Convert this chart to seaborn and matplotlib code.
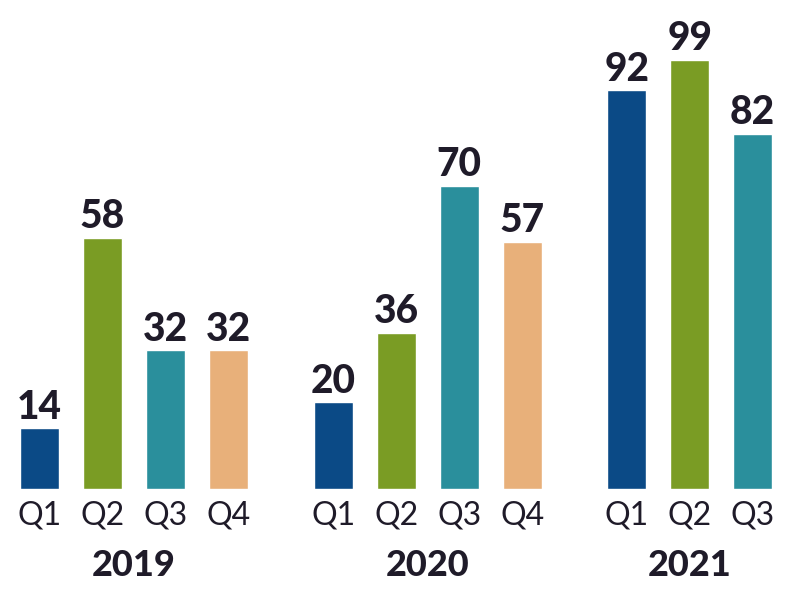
import matplotlib
matplotlib.use("Agg")
import matplotlib.pyplot as plt
import matplotlib.transforms as mtransforms
import seaborn as sns
import pandas as pd

years = ["2019", "2020", "2021"]
quarters = ["Q1", "Q2", "Q3", "Q4"]
values_2019 = [14, 58, 32, 32]
values_2020 = [20, 36, 70, 57]
values_2021 = [92, 99, 82]
series = [values_2019, values_2020, values_2021]

colors = {"Q1": "#0b4a86", "Q2": "#7a9c24", "Q3": "#2a8f9c", "Q4": "#e8b07a"}
text_color = "#1f1b29"

rows = []
group_gap = 4.66
for gi, (yr, vals) in enumerate(zip(years, series)):
    for qi, v in enumerate(vals):
        rows.append({"year": yr, "quarter": quarters[qi],
                     "pos": gi * group_gap + qi, "value": v})
df = pd.DataFrame(rows)

sns.set_theme(style="white")
plt.rcParams["font.family"] = ["Lato", "DejaVu Sans"]

W, H = 800, 593
fig = plt.figure(figsize=(8, 5.93), dpi=100)
base_px = 489
ax = fig.add_axes([0, (H - base_px) / H, 1, base_px / H])

sns.barplot(data=df, x="pos", y="value", hue="quarter", hue_order=quarters,
            palette=colors, native_scale=True, dodge=False, width=0.62,
            legend=False, ax=ax, saturation=1)

slot_px = 63.0
x0_px = 39.5
ax.set_xlim(-x0_px / slot_px, (W - x0_px) / slot_px)
px_per_unit = (base_px - 60) / 99
ax.set_ylim(0, base_px / px_per_unit)

for c in ax.containers:
    ax.bar_label(c, fmt="%d", padding=2, fontsize=28, fontweight="black",
                 color=text_color)

ax.set_xticks(df["pos"].tolist())
ax.set_xticklabels(df["quarter"].tolist(), fontsize=23, color=text_color)
ax.tick_params(axis="x", length=0, pad=8)
ax.set_yticks([])
ax.set_xlabel("")
ax.set_ylabel("")
for s in ax.spines.values():
    s.set_visible(False)

trans = mtransforms.blended_transform_factory(ax.transData, fig.transFigure)
for gi, (yr, vals) in enumerate(zip(years, series)):
    center = gi * group_gap + (len(vals) - 1) / 2
    ax.text(center, (H - 566) / H, yr, transform=trans, ha="center", va="center",
            fontsize=26, fontweight="black", color=text_color)

fig.savefig("out.png", dpi=100)
